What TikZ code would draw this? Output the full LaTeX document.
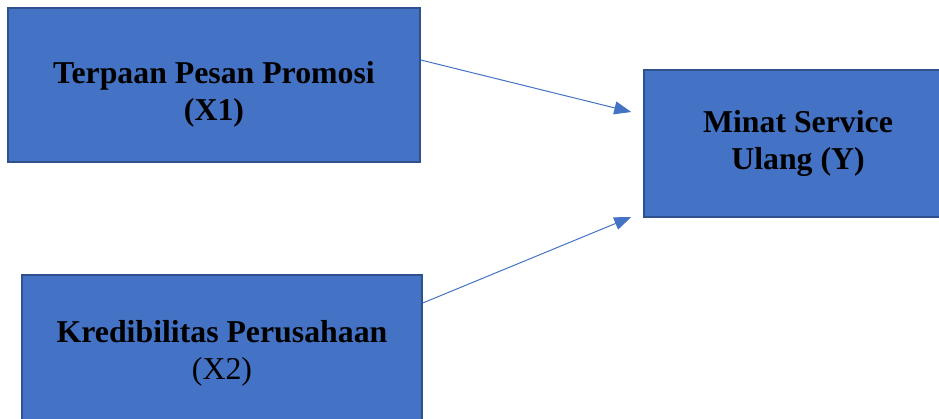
\documentclass[tikz,border=0pt]{standalone}
\usepackage{fontspec}
\setmainfont{Liberation Serif}
\usetikzlibrary{arrows.meta}
\definecolor{boxfill}{HTML}{4472C4}
\definecolor{boxline}{HTML}{2F528F}
\tikzset{
  var/.style={draw=boxline, line width=1.5pt, fill=boxfill, inner sep=0pt,
    align=center, font=\fontsize{31.8}{37}\selectfont},
  link/.style={draw=boxfill, line width=1pt, -{Triangle[length=17pt,width=13pt]}}
}
\begin{document}
\begin{tikzpicture}[x=1pt,y=-1pt]
      \useasboundingbox (0,0) rectangle (939,419);
      \clip (0,0) rectangle (939,419);
      \draw
        (214,85) node[var, minimum width=412pt, minimum height=154pt] (x1)
          {\rule{0pt}{40pt}\textbf{Terpaan Pesan Promosi}\\\textbf{(X1)}}
        (222,353) node[var, minimum width=400pt, minimum height=156pt] (x2)
          {\textbf{Kredibilitas Perusahaan}\\(X2)}
        (798,143.5) node[var, minimum width=308pt, minimum height=147pt] (y)
          {\textbf{Minat Service}\\\textbf{Ulang (Y)}};
      \begin{scope}[link]
        \draw ([yshift=25pt]x1.east) to ([xshift=-12pt,yshift=31.5pt]y.west);
        \draw ([yshift=50pt]x2.east) to ([xshift=-12pt,yshift=-73.5pt]y.west);
      \end{scope}
    \end{tikzpicture}
\end{document}
